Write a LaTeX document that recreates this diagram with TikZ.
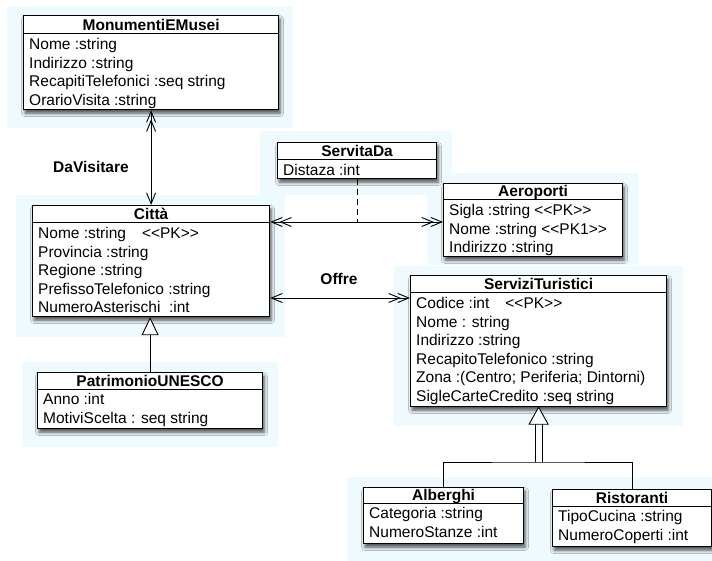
\documentclass[tikz,border=0pt]{standalone}
\usepackage{fontspec}
\setmainfont{Liberation Sans}
\usetikzlibrary{arrows.meta,shadows.blur}
\definecolor{bgblue}{RGB}{239,250,255}
\newcommand\lqq{<\kern0pt<}
\newcommand\rqq{>\kern0pt>}
\tikzset{
  clsbox/.style={draw=black, line width=1.2pt, fill=white, anchor=north west, inner sep=0pt,
    blur shadow={shadow xshift=1.5pt, shadow yshift=-3.5pt, shadow blur radius=3.5pt, shadow opacity=70}},
  clsline/.style={line width=1pt},
  clstitle/.style={font=\bfseries\fontsize{15.5}{18.6}\selectfont, inner sep=0pt, anchor=base},
  clsattr/.style={font=\fontsize{15.5}{18.6}\selectfont, inner sep=0pt, anchor=base west},
  lbl/.style={font=\bfseries\fontsize{15.5}{18.6}\selectfont, inner sep=0pt},
  conn/.style={line width=0.9pt},
  chevtip/.tip={Straight Barb[length=11pt,width=9pt]},
  dchevtip/.tip={Straight Barb[length=11pt,width=9pt,sep=-3.5pt] Straight Barb[length=11pt,width=9pt]},
  gentip/.tip={Triangle[length=18pt,width=17pt,fill=white]}
}
\newcommand\umlclass[8]{%
  \node[clsbox, minimum width=#4pt, minimum height=#5pt] (#1) at (#2,#3) {};
  \draw[clsline] ([yshift=-#6pt]#1.north west) -- ([yshift=-#6pt]#1.north east);
  \pgfmathsetmacro\umlty{#6-3}
  \node[clstitle] (#1-t) at ([yshift=-\umlty pt]#1.north) {#7};
  \foreach \a [count=\i] in {#8} {
    \pgfmathsetmacro\umlay{#6+15.5+(\i-1)*18.6}
    \node[clsattr] (#1-\i) at ([xshift=6pt,yshift=-\umlay pt]#1.north west) {\a};
  }
}
\begin{document}
\begin{tikzpicture}[x=1pt,y=-1pt]
\useasboundingbox (0,0) rectangle (712,561);
\fill[white] (0,0) rectangle (712,561);
% pale blue backgrounds
\fill[bgblue] (7,6) rectangle (293,128);
\fill[bgblue] (260,131) rectangle (452,195);
\fill[bgblue] (16,195) rectangle (285,337);
\fill[bgblue] (427,173) rectangle (638,265);
\fill[bgblue] (394,266) rectangle (683,426);
\fill[bgblue] (22,362) rectangle (278,447);
\fill[bgblue] (347,477) rectangle (712,561);
% classes
\umlclass{mon}{23}{15}{255}{94}{19}{MonumentiEMusei}{Nome :string, Indirizzo :string, RecapitiTelefonici :seq string, OrarioVisita :string}
\umlclass{cit}{32}{205}{237}{111}{18}{Città}{Nome :string\hspace{16pt}\lqq{}PK\rqq{}, Provincia :string, Regione :string, PrefissoTelefonico :string, NumeroAsterischi\ \ :int}
\umlclass{srv}{277}{142}{159}{36}{18}{ServitaDa}{Distaza :int}
\umlclass{aer}{443}{183}{179}{73}{17}{Aeroporti}{Sigla :string \lqq{}PK\rqq{}, Nome :string \lqq{}PK1\rqq{}, Indirizzo :string}
\umlclass{ser}{410}{275}{256}{131}{18}{ServiziTuristici}{Codice :int\hspace{16pt}\lqq{}PK\rqq{}, Nome : string, Indirizzo :string, RecapitoTelefonico :string, Zona :(Centro; Periferia; Dintorni), SigleCarteCredito :seq string}
\umlclass{pat}{37}{372}{225}{56}{17}{PatrimonioUNESCO}{Anno :int, MotiviScelta : seq string}
\umlclass{alb}{363}{487}{160}{56}{16}{Alberghi}{Categoria :string, NumeroStanze :int}
\umlclass{ris}{552}{489}{159}{57}{17}{Ristoranti}{TipoCucina :string, NumeroCoperti :int}
% associations
\draw[conn, {dchevtip}-{chevtip}] (mon.south) -- (cit.north);
\node[lbl] (lda) at (91,167) {DaVisitare};
\coordinate (yA) at (0,222);
\draw[conn, {dchevtip}-{dchevtip}] (cit.east |- yA) -- (aer.west |- yA);
\draw[conn, dash pattern=on 6pt off 4pt] (srv.south) -- (srv.south |- yA);
\coordinate (yO) at (0,298);
\draw[conn, {chevtip}-{dchevtip}] (cit.east |- yO) -- (ser.west |- yO);
\node[lbl] (lof) at (339,279) {Offre};
% generalizations
\draw[conn, -{gentip}] (pat.north) -- (pat.north |- cit.south);
\coordinate (j) at (ser.south |- 0,462);
\draw[conn] (alb.north) |- (j) -| (ris.north);
\coordinate (sb) at ([yshift=-17pt]ser.south);
\draw[conn] ([xshift=-3.5pt]j) -- ([xshift=-3.5pt]sb);
\draw[conn] ([xshift=3.5pt]j) -- ([xshift=3.5pt]sb);
\draw[conn, fill=white, line join=miter] (ser.south) -- ([xshift=-9.5pt]sb) -- ([xshift=9.5pt]sb) -- cycle;
\end{tikzpicture}
\end{document}
